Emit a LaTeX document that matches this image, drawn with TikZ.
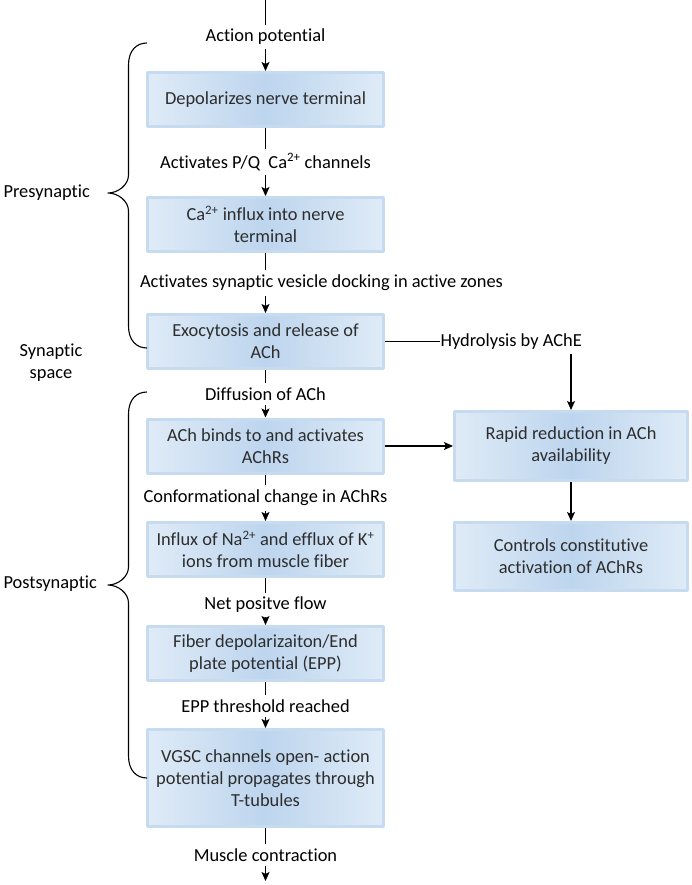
\documentclass[tikz,border=0pt]{standalone}
\usepackage{fontspec}
\setmainfont{Carlito}[Ligatures=NoCommon]
\usetikzlibrary{arrows.meta}
\definecolor{boxlight}{RGB}{223,235,247}
\definecolor{boxdark}{RGB}{189,213,238}
\definecolor{boxedge}{RGB}{198,219,240}
\definecolor{boxtext}{RGB}{45,45,45}
% curly brace on the left: top y, tip y, bottom y
\newcommand\sidebrace[3]{%
  \draw (147,#1) .. controls (136,#1) and (128.5,#1+8) .. (128.5,#1+22)
    -- (128.5,#2-18) .. controls (128.5,#2-8) and (118,#2) .. (108,#2)
    .. controls (118,#2) and (128.5,#2+8) .. (128.5,#2+18)
    -- (128.5,#3-22) .. controls (128.5,#3-8) and (136,#3) .. (147,#3);}
\begin{document}
\begin{tikzpicture}[x=1pt,y=-1pt,>={Stealth[length=9pt,width=8pt,inset=2pt]},line width=1.1pt,line join=round,
  font=\fontsize{18.4}{22}\selectfont,
  flowbox/.style={draw=boxedge,line width=3pt,left color=boxlight,right color=boxlight,middle color=boxdark,
    minimum width=236pt,minimum height=54pt,align=center,text=boxtext,inner sep=2pt},
  midlabel/.style={inner sep=4pt,align=center}]
\useasboundingbox (0,0) rectangle (692,885);
% main column
\node[flowbox] (depol) at (265.5,99.5) {Depolarizes nerve terminal};
\node[flowbox] (influx) at (265.5,224.5) {Ca\textsuperscript{2+} influx into nerve\\terminal};
\node[flowbox] (exo) at (265.5,341.5) {Exocytosis and release of\\ACh};
\node[flowbox] (binds) at (265.5,446) {ACh binds to and activates\\AChRs};
\node[flowbox] (naflux) at (265.5,549.5) {Influx of Na\textsuperscript{2+} and efflux of K\textsuperscript{+}\\ions from muscle fiber};
\node[flowbox] (epp) at (265.5,653.5) {Fiber depolarizaiton/End\\plate potential (EPP)};
\node[flowbox,minimum height=97pt] (vgsc) at (265.5,778) {VGSC channels open- action\\potential propagates through\\T-tubules};
% right column
\node[flowbox,minimum width=233pt,minimum height=69pt] (reduce) at (571,446) {Rapid reduction in ACh\\availability};
\node[flowbox,minimum width=233pt,minimum height=68pt] (control) at (571,556.5) {Controls constitutive\\activation of AChRs};
% labels on the connectors
\coordinate (in) at (265.5,0);
\node[midlabel] (ap) at (265.5,37) {Action potential};
\node[midlabel] (pq) at (265.5,162) {Activates P/Q\ \ Ca\textsuperscript{2+} channels};
\node[midlabel] (dock) at (321.5,283) {Activates synaptic vesicle docking in active zones};
\node[midlabel] (diff) at (265.5,394) {Diffusion of ACh};
\node[midlabel] (conf) at (265.5,498) {Conformational change in AChRs};
\node[midlabel] (flow) at (265.5,605) {Net positve flow};
\node[midlabel] (thr) at (265.5,706) {EPP threshold reached};
\node[midlabel] (mc) at (265.5,855) {Muscle contraction};
\coordinate (out) at (265.5,881);
\node[anchor=west,inner xsep=0pt,inner ysep=4pt] (hyd) at (440,341.5) {Hydrolysis by AChE};
% connectors
\draw (in) -- (ap);
\draw[->] (ap) -- (depol);
\draw (depol) -- (pq);
\draw[->] (pq) -- (influx);
\draw (influx) -- (influx |- dock.north);
\draw[->] (exo |- dock.south) -- (exo);
\draw (exo) -- (diff);
\draw[->] (diff) -- (binds);
\draw (binds) -- (conf);
\draw[->] (conf) -- (naflux);
\draw (naflux) -- (flow);
\draw[->] (flow) -- (epp);
\draw (epp) -- (thr);
\draw[->] (thr) -- (vgsc);
\draw (vgsc) -- (mc);
\draw[->] (mc) -- (out);
\draw (exo) -- (hyd);
\draw[->] (hyd.south -| reduce.north) -- (reduce.north);
\draw[->] (binds) -- (reduce);
\draw[->] (reduce) -- (control);
% braces and their texts
\sidebrace{43}{193}{348}
\sidebrace{392}{585}{778}
\node[anchor=west,inner sep=0pt] (pre) at (3,193) {Presynaptic};
\node[align=center,inner sep=0pt] (syn) at (51,363) {Synaptic\\space};
\node[anchor=west,inner sep=0pt] (post) at (3,584) {Postsynaptic};
\end{tikzpicture}
\end{document}
